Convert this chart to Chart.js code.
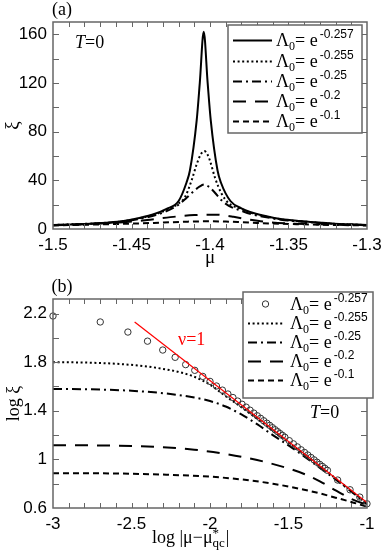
<!doctype html>
<html>
<head>
<script src="https://cdn.jsdelivr.net/npm/chart.js"></script>
<style>
  body { margin: 0; background: #fff; }
  .panel { position: absolute; left: 0; }
</style>
</head>
<body>
<canvas id="chartA" class="panel" width="382" height="270" style="top:0"></canvas>
<canvas id="chartB" class="panel" width="382" height="281" style="top:270px"></canvas>
<script>
// ---- legend labels (exponent of Lambda_0)
var expLabels = ['-0.257', '-0.255', '-0.25', '-0.2', '-0.1'];

// ---- panel (a): xi vs mu
var aTicksX = [-1.5, -1.45, -1.4, -1.35, -1.3];
var aTickLabelsX = ['-1.5', '-1.45', '-1.4', '-1.35', '-1.3'];
var aTicksY = [0, 40, 80, 120, 160];

var muA257 = [-1.5, -1.48, -1.466, -1.455, -1.445, -1.435, -1.428, -1.42, -1.415, -1.4128, -1.4085, -1.4065, -1.404, -1.4015, -1.3995, -1.3952, -1.393, -1.387, -1.38, -1.3745, -1.364, -1.355, -1.343, -1.33, -1.321, -1.31, -1.3];
var xiA257 = [3.3, 4.2, 5.2, 6.5, 9, 12.5, 16.3, 23, 38, 48, 89, 120, 162, 120, 89, 48, 38, 23, 17, 14, 10.5, 8.2, 6.5, 5.2, 4.4, 3.8, 3.3];

var muA255 = [-1.5, -1.48, -1.466, -1.455, -1.445, -1.435, -1.428, -1.42, -1.416, -1.4117, -1.4085, -1.406, -1.4036, -1.4015, -1.4, -1.3968, -1.3926, -1.388, -1.38, -1.3745, -1.364, -1.355, -1.343, -1.33, -1.321, -1.31, -1.3];
var xiA255 = [3.3, 4.2, 5.1, 6.4, 8.8, 12, 15.5, 21, 26, 40, 53, 61, 64, 61, 56, 42, 29, 21, 16.5, 13.5, 10.2, 8, 6.4, 5.1, 4.3, 3.7, 3.2];

var muA25 = [-1.5, -1.48, -1.466, -1.455, -1.445, -1.435, -1.428, -1.42, -1.415, -1.41, -1.4065, -1.4036, -1.4005, -1.397, -1.393, -1.388, -1.38, -1.3745, -1.364, -1.355, -1.343, -1.33, -1.321, -1.31, -1.3];
var xiA25 = [3.2, 4.1, 5, 6.2, 8.3, 11.3, 14.5, 20, 25.5, 31.5, 35, 36.5, 34.5, 30, 24, 19, 15, 12.5, 9.6, 7.6, 6.1, 5, 4.2, 3.6, 3.2];

var muA2 = [-1.5, -1.48, -1.466, -1.455, -1.44, -1.43, -1.42, -1.41, -1.403, -1.396, -1.39, -1.385, -1.38, -1.3745, -1.364, -1.35, -1.33, -1.31, -1.3];
var xiA2 = [3.1, 3.9, 4.7, 5.6, 7.4, 9, 10.4, 11.4, 11.8, 11.8, 11.1, 10, 8.8, 7.6, 5.8, 4.6, 3.8, 3.3, 3.1];

var muA1 = [-1.5, -1.48, -1.46, -1.445, -1.43, -1.415, -1.403, -1.39, -1.38, -1.37, -1.36, -1.345, -1.33, -1.315, -1.3];
var xiA1 = [2.9, 3.5, 4.1, 4.6, 5.3, 6, 6.3, 6.1, 5.6, 5, 4.5, 4, 3.5, 3.2, 2.9];

// ---- panel (b): log xi vs log|mu - mu*qc|
var bTicksX = [-3, -2.5, -2, -1.5, -1];
var bTickLabelsX = ['-3', '-2.5', '-2', '-1.5', '-1'];
var bTicksY = [0.6, 1, 1.4, 1.8, 2.2];
var bTickLabelsY = ['0.6', '1', '1.4', '1.8', '2.2'];

var lxB257 = [-3, -2.699, -2.523, -2.398, -2.301, -2.222, -2.155, -2.097, -2.046, -2, -1.959, -1.921, -1.886, -1.854, -1.824, -1.796, -1.77, -1.745, -1.721, -1.699, -1.678, -1.658, -1.638, -1.62, -1.602, -1.585, -1.569, -1.553, -1.538, -1.523, -1.495, -1.469, -1.444, -1.42, -1.398, -1.377, -1.357, -1.337, -1.319, -1.301, -1.284, -1.268, -1.252, -1.187, -1.108, -1.046, -1];
var lyB257 = [2.18, 2.131, 2.048, 1.973, 1.9, 1.84, 1.78, 1.733, 1.683, 1.642, 1.604, 1.57, 1.538, 1.509, 1.48, 1.454, 1.43, 1.405, 1.381, 1.359, 1.338, 1.318, 1.298, 1.28, 1.261, 1.244, 1.228, 1.212, 1.197, 1.182, 1.154, 1.128, 1.103, 1.079, 1.057, 1.036, 1.016, 0.996, 0.977, 0.959, 0.942, 0.926, 0.91, 0.83, 0.75, 0.69, 0.635];

var lxB255 = [-3, -2.8, -2.6, -2.4, -2.3, -2.2, -2.1, -2, -1.9, -1.8, -1.7, -1.6, -1.5, -1.4, -1.3, -1.2, -1.1, -1];
var lyB255 = [1.8, 1.797, 1.787, 1.765, 1.745, 1.72, 1.68, 1.615, 1.52, 1.43, 1.335, 1.238, 1.14, 1.043, 0.944, 0.843, 0.74, 0.635];

var lxB25 = [-3, -2.7, -2.5, -2.3, -2.1, -2, -1.9, -1.8, -1.7, -1.6, -1.5, -1.4, -1.3, -1.2, -1.1, -1];
var lyB25 = [1.58, 1.575, 1.565, 1.545, 1.51, 1.48, 1.435, 1.37, 1.29, 1.2, 1.115, 1.025, 0.93, 0.835, 0.735, 0.63];

var lxB2 = [-3, -2.7, -2.5, -2.3, -2.1, -1.9, -1.7, -1.5, -1.4, -1.3, -1.2, -1.1, -1];
var lyB2 = [1.117, 1.115, 1.11, 1.1, 1.08, 1.045, 0.995, 0.925, 0.88, 0.82, 0.745, 0.675, 0.625];

var lxB1 = [-3, -2.6, -2.3, -2, -1.8, -1.6, -1.4, -1.3, -1.2, -1.1, -1];
var lyB1 = [0.887, 0.884, 0.875, 0.858, 0.835, 0.8, 0.75, 0.72, 0.685, 0.65, 0.61];

var fitX = [-2.48, -1.0];
var fitY = [2.13, 0.645];

// ---- styles
var ink = '#000';
var frameColor = '#666';
var dashes = [[], [2, 2.6], [9, 4, 2, 4], [13, 9], [6, 4]];
var serif = '"Liberation Serif", "DejaVu Serif", serif';
var sans = '"Liberation Sans", Arial, sans-serif';

Chart.defaults.font.family = sans;
Chart.defaults.font.size = 17;
Chart.defaults.color = ink;
Chart.defaults.animation = false;

function pts(xs, ys) {
  return xs.map(function (x, i) { return { x: x, y: ys[i] }; });
}

function lineSet(xs, ys, k, order) {
  return {
    data: pts(xs, ys), showLine: true, pointRadius: 0, borderColor: ink,
    borderWidth: 2, borderDash: dashes[k], cubicInterpolationMode: 'monotone', order: order
  };
}

// inward ticks on all four sides plus the box
function frameTicks(chart, o) {
  var ctx = chart.ctx, a = chart.chartArea, sx = chart.scales.x, sy = chart.scales.y;
  ctx.save();
  ctx.strokeStyle = frameColor;
  ctx.lineWidth = 1;
  ctx.beginPath();
  function tx(v, len) {
    var p = Math.round(sx.getPixelForValue(v)) + 0.5;
    ctx.moveTo(p, a.bottom); ctx.lineTo(p, a.bottom - len);
    ctx.moveTo(p, a.top); ctx.lineTo(p, a.top + len);
  }
  function ty(v, len) {
    var p = Math.round(sy.getPixelForValue(v)) + 0.5;
    ctx.moveTo(a.left, p); ctx.lineTo(a.left + len, p);
    ctx.moveTo(a.right, p); ctx.lineTo(a.right - len, p);
  }
  var n;
  n = Math.round((o.x1 - o.x0) / o.xMinor);
  for (var i = 1; i < n; i++) tx(o.x0 + i * o.xMinor, 5);
  n = Math.round((o.y1 - o.y0) / o.yMinor);
  for (var j = 1; j < n; j++) ty(o.y0 + j * o.yMinor, 6);
  ctx.stroke();
  ctx.lineWidth = 1.5;
  ctx.strokeRect(a.left, a.top, a.right - a.left, a.bottom - a.top);
  ctx.restore();
}

// Lambda_0 = e^{exp}
function lambdaText(ctx, x, yMid, sup) {
  var base = yMid + 6;
  ctx.fillStyle = ink;
  ctx.textAlign = 'left';
  ctx.textBaseline = 'alphabetic';
  ctx.font = '18px ' + serif;
  ctx.fillText('\u039B', x, base); x += ctx.measureText('\u039B').width;
  ctx.font = '12px ' + serif;
  ctx.fillText('0', x, base + 4); x += ctx.measureText('0').width;
  ctx.font = '18px ' + serif;
  ctx.fillText('= e', x, base); x += ctx.measureText('= e').width + 2;
  ctx.font = '12px ' + sans;
  ctx.fillText(sup, x, base - 8);
}

function tEquals0(ctx, x, yMid) {
  ctx.fillStyle = ink;
  ctx.textAlign = 'left';
  ctx.textBaseline = 'middle';
  ctx.font = 'italic 18px ' + serif;
  ctx.fillText('T', x, yMid);
  x += ctx.measureText('T').width;
  ctx.font = '18px ' + serif;
  ctx.fillText('=0', x, yMid);
}

function drawLegend(chart, L) {
  var ctx = chart.ctx;
  ctx.save();
  ctx.fillStyle = '#fff';
  ctx.fillRect(L.x0, L.y0, L.x1 - L.x0, L.y1 - L.y0);
  ctx.strokeStyle = frameColor;
  ctx.lineWidth = 1.5;
  ctx.strokeRect(L.x0, L.y0, L.x1 - L.x0, L.y1 - L.y0);
  for (var i = 0; i < expLabels.length; i++) {
    var y = L.rows[i];
    if (i === 0 && L.circle) {
      ctx.beginPath();
      ctx.lineWidth = 1;
      ctx.strokeStyle = '#333';
      ctx.arc((L.s0 + L.s1) / 2, y, 3.2, 0, Math.PI * 2);
      ctx.stroke();
    } else {
      ctx.beginPath();
      ctx.lineWidth = 2;
      ctx.strokeStyle = ink;
      ctx.setLineDash(dashes[i]);
      ctx.moveTo(L.s0, y + 0.5);
      ctx.lineTo(L.s1, y + 0.5);
      ctx.stroke();
      ctx.setLineDash([]);
    }
    lambdaText(ctx, L.t0, y, expLabels[i]);
  }
  ctx.restore();
}

function scaleX(ticks, labels, min, max, h, title) {
  return {
    type: 'linear', min: min, max: max,
    grid: { display: false, drawTicks: false }, border: { display: false },
    afterBuildTicks: function (s) { s.ticks = ticks.map(function (v) { return { value: v }; }); },
    afterFit: function (s) { s.height = h; s.paddingLeft = 0; s.paddingRight = 0; },
    ticks: { padding: 6, maxRotation: 0, callback: function (v, i) { return labels[i]; } },
    title: title
  };
}

function scaleY(ticks, labels, min, max, title) {
  return {
    type: 'linear', min: min, max: max,
    grid: { display: false, drawTicks: false }, border: { display: false },
    afterBuildTicks: function (s) { s.ticks = ticks.map(function (v) { return { value: v }; }); },
    afterFit: function (s) { s.width = 53; s.paddingTop = 0; s.paddingBottom = 0; },
    ticks: { padding: 6, callback: function (v, i) { return labels[i]; } },
    title: title
  };
}

// ---------------- panel (a)
new Chart(document.getElementById('chartA'), {
  type: 'scatter',
  data: {
    datasets: [
      lineSet(muA257, xiA257, 0, 0),
      lineSet(muA255, xiA255, 1, 1),
      lineSet(muA25, xiA25, 2, 2),
      lineSet(muA2, xiA2, 3, 3),
      lineSet(muA1, xiA1, 4, 4)
    ]
  },
  options: {
    responsive: false,
    layout: { padding: { top: 22, right: 15, left: 0, bottom: 0 } },
    plugins: { legend: { display: false }, tooltip: { enabled: false } },
    scales: {
      x: scaleX(aTicksX, aTickLabelsX, -1.5, -1.3, 41,
        { display: true, text: '\u03BC', font: { family: serif, size: 19 }, padding: { top: 0, bottom: 1 } }),
      y: scaleY(aTicksY, aTicksY.map(String), 0, 170,
        { display: true, text: '\u03BE', font: { family: serif, size: 19 }, padding: { top: 2, bottom: 0 } })
    }
  },
  plugins: [{
    id: 'decorA',
    afterDatasetsDraw: function (chart) {
      frameTicks(chart, { x0: -1.5, x1: -1.3, xMinor: 0.01, y0: 0, y1: 170, yMinor: 20 });
      drawLegend(chart, { x0: 228, y0: 25, x1: 362, y1: 133, rows: [40, 61, 81, 101, 121], s0: 233, s1: 272, t0: 276 });
      var ctx = chart.ctx;
      ctx.save();
      tEquals0(ctx, 75, 43);
      ctx.font = '18px ' + serif;
      ctx.textAlign = 'center';
      ctx.textBaseline = 'middle';
      ctx.fillText('(a)', 62, 10);
      ctx.restore();
    }
  }]
});

// ---------------- panel (b)
new Chart(document.getElementById('chartB'), {
  type: 'scatter',
  data: {
    datasets: [
      { data: pts(fitX, fitY), showLine: true, pointRadius: 0, borderColor: '#ff0000', borderWidth: 1.2, order: 0 },
      { data: pts(lxB257, lyB257), showLine: false, pointRadius: 3.2, pointBorderWidth: 1, clip: false,
        pointBorderColor: '#333', pointBackgroundColor: 'rgba(0,0,0,0)', order: 1 },
      lineSet(lxB255, lyB255, 1, 2),
      lineSet(lxB25, lyB25, 2, 3),
      lineSet(lxB2, lyB2, 3, 4),
      lineSet(lxB1, lyB1, 4, 5)
    ]
  },
  options: {
    responsive: false,
    layout: { padding: { top: 29, right: 15, left: 0, bottom: 0 } },
    plugins: { legend: { display: false }, tooltip: { enabled: false } },
    scales: {
      x: scaleX(bTicksX, bTickLabelsX, -3, -1, 43, { display: false }),
      y: scaleY(bTicksY, bTickLabelsY, 0.6, 2.32,
        { display: true, text: 'log \u03BE', font: { family: serif, size: 18 }, padding: { top: 3, bottom: 0 } })
    }
  },
  plugins: [{
    id: 'decorB',
    afterDatasetsDraw: function (chart) {
      frameTicks(chart, { x0: -3, x1: -1, xMinor: 0.1, y0: 0.6, y1: 2.32, yMinor: 0.2 });
      drawLegend(chart, { x0: 243, y0: 22, x1: 373, y1: 128, rows: [34, 53, 72, 91, 110], s0: 248, s1: 283, t0: 290, circle: true });
      var ctx = chart.ctx;
      ctx.save();
      tEquals0(ctx, 310, 143);
      ctx.font = '18px ' + serif;
      ctx.textAlign = 'center';
      ctx.textBaseline = 'middle';
      ctx.fillText('(b)', 62, 17);
      ctx.fillStyle = '#ff0000';
      ctx.textAlign = 'left';
      ctx.fillText('\u03BD=1', 178, 70);
      // x title: log |mu - mu*_qc|
      ctx.fillStyle = ink;
      var x = 152, y = 273;
      ctx.textBaseline = 'alphabetic';
      ctx.font = '18px ' + serif;
      var s = 'log |\u03BC\u2212\u03BC';
      ctx.fillText(s, x, y); x += ctx.measureText(s).width;
      ctx.font = '13px ' + serif;
      ctx.fillText('*', x, y - 6);
      ctx.fillText('qc', x, y + 4);
      x += ctx.measureText('qc').width + 1;
      ctx.font = '18px ' + serif;
      ctx.fillText('|', x, y);
      ctx.restore();
    }
  }]
});
</script>
</body>
</html>
